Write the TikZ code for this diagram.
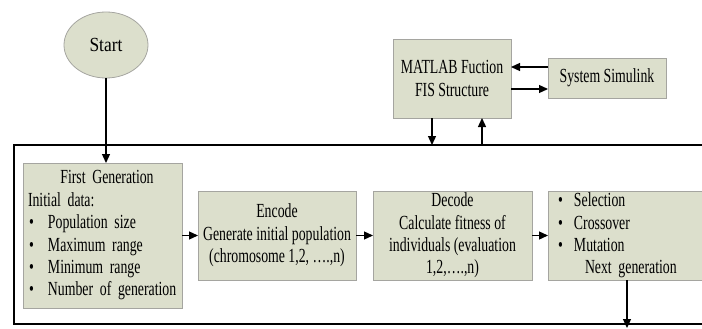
\documentclass[tikz,border=0pt]{standalone}
\usepackage{fontspec}
\setmainfont{Liberation Serif}[FakeStretch=0.69]
\newfontfamily\startfont{Liberation Serif}[FakeStretch=0.87]
\usetikzlibrary{shapes.geometric,arrows.meta}
\definecolor{boxfill}{RGB}{220,223,204}
\definecolor{boxline}{RGB}{165,165,160}
\newcommand{\bul}[1]{\makebox[#1][l]{\hspace{1pt}\textbullet}}
\begin{document}
\begin{tikzpicture}[x=1pt,y=-1pt,
  font=\fontsize{20}{22.4}\selectfont,
  box/.style={draw=boxline, fill=boxfill, line width=0.8pt, inner sep=0pt, outer sep=0pt},
  arr/.style={-{Triangle[length=9pt,width=8pt]}, line width=1.3pt}]
\useasboundingbox (0,0) rectangle (702,329);
\clip (0,0) rectangle (702,329);
\node[draw, line width=1.8pt, minimum width=706pt, minimum height=179pt, inner sep=0pt, outer sep=0pt] (frame) at (367,234.5) {};
\node[box, ellipse, minimum width=84pt, minimum height=66pt, font=\startfont\fontsize{20}{22.4}\selectfont] (start) at (106,45) {Start};
\node[box, minimum width=159pt, minimum height=145pt, text width=149pt, align=left] (first) at (102.5,235.5)
 {\makebox[149pt][c]{\hspace{9pt}First Generation}\\
  Initial data:\\
  \bul{20pt}Population size\\
  \bul{20pt}Maximum range\\
  \bul{20pt}Minimum range\\
  \bul{20pt}Number of generation};
\node[box, minimum width=158pt, minimum height=89pt, align=center] (encode) at (277,235.5)
 {Encode\\Generate initial population\\(chromosome 1,2, ….,n)};
\node[box, minimum width=159pt, minimum height=89pt, align=center] (decode) at (452.5,235.5)
 {Decode\\Calculate fitness of\\individuals (evaluation\\1,2,….,n)};
\node[box, minimum width=172pt, minimum height=89pt, text width=154pt, align=left] (sel) at (634,235.5)
 {\bul{17pt}Selection\\
  \bul{17pt}Crossover\\
  \bul{17pt}Mutation\\
  \hspace*{28pt}Next generation};
\node[box, minimum width=118pt, minimum height=79pt, align=center] (matlab) at (452,78.5)
 {MATLAB Fuction\\FIS Structure};
\node[box, minimum width=118pt, minimum height=40pt] (sim) at (607,78) {System Simulink};
\coordinate (ya) at (0,67);
\coordinate (yb) at (0,89);
\coordinate (xa) at (432,0);
\coordinate (xb) at (482,0);
\coordinate (ng) at (627,328);
\draw[arr] (start.south) -- (start.south |- first.north);
\draw[arr] (first) -- (encode);
\draw[arr] (encode) -- (decode);
\draw[arr] (decode) -- (sel);
\draw[arr] (sel.south -| ng) -- (ng);
\draw[arr] (sim.west |- ya) -- (matlab.east |- ya);
\draw[arr] (matlab.east |- yb) -- (sim.west |- yb);
\draw[arr] (matlab.south -| xa) -- (frame.north -| xa);
\draw[arr] (frame.north -| xb) -- (matlab.south -| xb);
\end{tikzpicture}
\end{document}
